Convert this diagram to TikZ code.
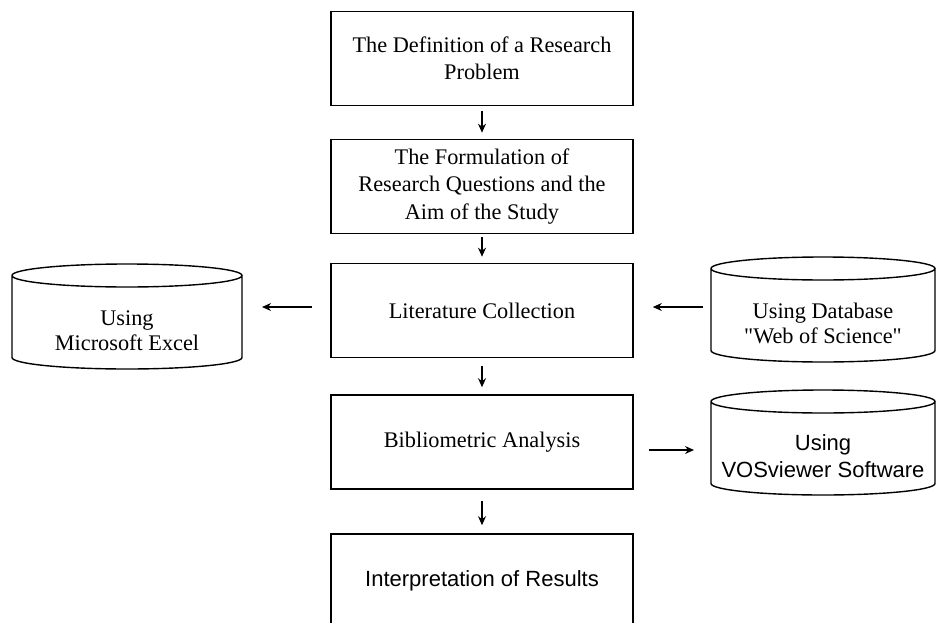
\documentclass[tikz,border=0pt]{standalone}
\usepackage{fontspec}
\setmainfont{Liberation Serif}[Ligatures=TeXOff]
\newfontfamily\sansfont{Liberation Sans}
\usetikzlibrary{arrows.meta}

\tikzset{mbox/.style = {shape = rectangle,
                        color = black,
                        line width = 1.6pt,
                        minimum width = 302pt,
                        minimum height = 94pt,
                        align = center,
                        font = \fontsize{22.3}{27.5}\selectfont,
                        draw},
         mcyl/.style = {shape = rectangle,
                        outer sep = 0pt,
                        minimum width = 224pt,
                        minimum height = 105pt},
         mtext/.style = {align = center,
                         yshift = -14pt,
                         font = \fontsize{22.3}{25}\selectfont},
         mline/.style = {line width = 1.4pt},
         marrow/.style = {-{Stealth[length=9pt,width=8pt]},
                          line width = 1.3pt}}

\begin{document}
\begin{tikzpicture}[x=1pt,y=1pt]
		\useasboundingbox (0,0) rectangle (936,-623);
		\node[mbox] (1) at (482,-58.5) {The Definition of a Research\\Problem};
		\node[mbox] (2) at (482,-186.5) {The Formulation of\\Research Questions and the\\Aim of the Study};
		\node[mbox] (3) at (482,-310.5) {Literature Collection};
		\node[mbox] (4) at (482,-442) {Bibliometric Analysis};
		\node[mbox, font=\sansfont\fontsize{22}{27}\selectfont] (5) at (482,-581) {Interpretation of Results};
		\node[mcyl, minimum width=230pt,
		      label={[mtext]center:Using\\Microsoft Excel}] (6) at (127,-316.5) {};
		\node[mcyl, label={[mtext]center:Using Database\\"Web of Science"}] (7) at (823,-309.5) {};
		\node[mcyl, label={[mtext, font=\sansfont\fontsize{22}{27}\selectfont]center:Using\\VOSviewer Software}] (8) at (823,-442.5) {};
		% drums
		\foreach \n/\r in {6/115,7/112,8/112}
		  \draw[mline] ([yshift=-11.5pt]\n.north west) arc[start angle=180, end angle=540, x radius=\r, y radius=11.5]
		    -- ([yshift=11.5pt]\n.south west) arc[start angle=180, end angle=360, x radius=\r, y radius=11.5]
		    -- ([yshift=-11.5pt]\n.north east);
		\path (1) edge[marrow, shorten <=5pt, shorten >=6pt] (2);
		\path (2) edge[marrow, shorten <=3pt, shorten >=6pt] (3);
		\path (3) edge[marrow, shorten <=8pt, shorten >=7pt] (4);
		\path (4) edge[marrow, shorten <=11pt, shorten >=8pt] (5);
		\path ([yshift=3.5pt]3.west) edge[marrow, shorten <=18pt, shorten >=20pt] ([yshift=3.5pt]3.west -| 6.east);
		\path ([yshift=3.5pt]3.east -| 7.west) edge[marrow, shorten <=8pt, shorten >=19pt] ([yshift=3.5pt]3.east);
		\path ([yshift=-8pt]4.east) edge[marrow, shorten <=15pt, shorten >=17pt] ([yshift=-8pt]4.east -| 8.west);
	\end{tikzpicture}
\end{document}
